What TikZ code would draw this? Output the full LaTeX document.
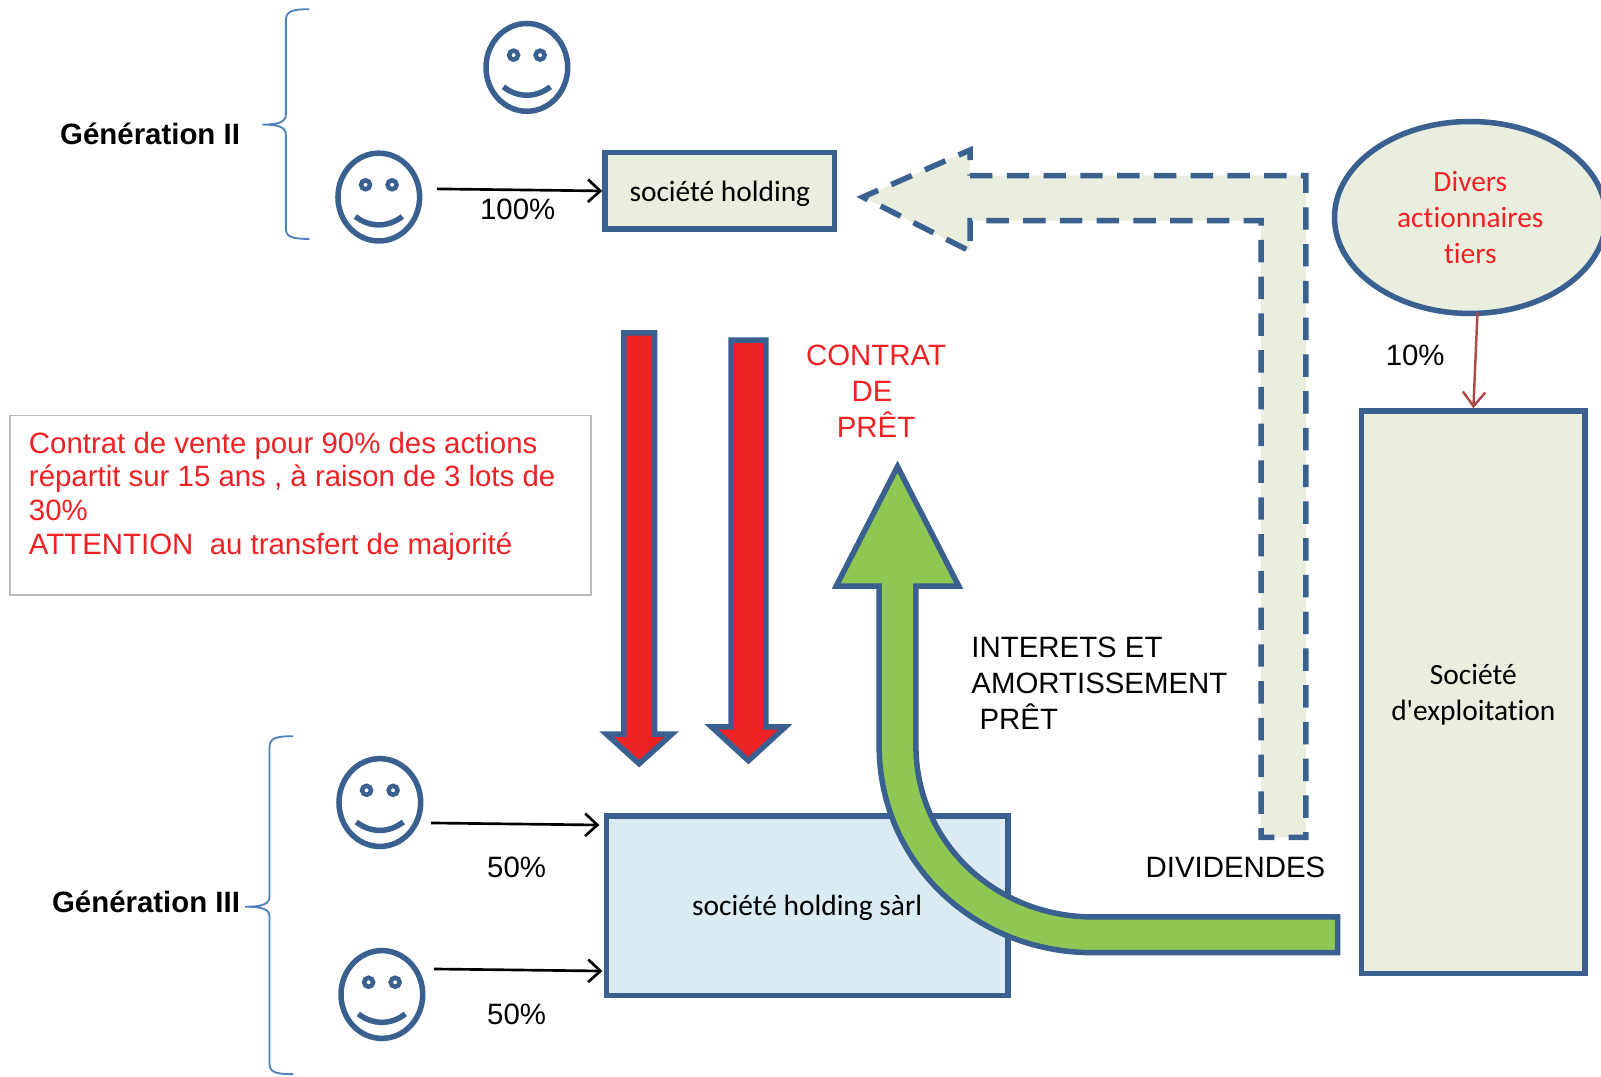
\documentclass[tikz,border=0pt]{standalone}
\usepackage{fontspec}
\setmainfont{Liberation Sans}
\newfontfamily\carlito[Ligatures=NoCommon]{Carlito}
\usetikzlibrary{shapes.geometric,arrows.meta}
\definecolor{bleutrait}{RGB}{57,96,143}
\definecolor{bleuaccolade}{RGB}{79,129,189}
\definecolor{beige}{RGB}{233,238,222}
\definecolor{bleuclair}{RGB}{218,236,242}
\definecolor{rouge}{RGB}{238,34,36}
\definecolor{vert}{RGB}{142,200,83}
\definecolor{brique}{RGB}{176,72,72}
\tikzstyle{boite}=[draw=bleutrait,line width=2.7pt,inner sep=0pt,anchor=center,font=\carlito\fontsize{14.4}{17.6}\selectfont,align=center]
\tikzstyle{tete}=[draw=bleutrait,line width=2.7pt,ellipse,inner sep=0pt,minimum width=40pt,minimum height=43pt]
\tikzstyle{trait}=[draw=bleutrait,line width=2.7pt]
\tikzstyle{accolade}=[draw=bleuaccolade,line width=0.9pt]
\tikzstyle{fleche}=[draw=black,line width=1.3pt,-{Straight Barb[length=6pt,width=11pt]}]
\tikzstyle{texte}=[font=\fontsize{14.4}{17.7}\selectfont,inner sep=0pt]
\tikzstyle{titre}=[font=\bfseries\fontsize{14.4}{17.7}\selectfont,inner sep=0pt]
\newcommand{\smiley}[2]{
\node[tete] (#1) at (#2) {};
\begin{scope}[shift={(#2)}]
\draw[draw=bleutrait,line width=2.2pt,fill=white] (-13,-12) circle (2.2pt);
\draw[draw=bleutrait,line width=2.2pt,fill=white] (13,-12) circle (2.2pt);
\draw[trait] (-23,19) .. controls (-9,30) and (9,30) .. (23,19);
\end{scope}
}
\begin{document}
\begin{tikzpicture}[x=0.5pt,y=-0.5pt]
\useasboundingbox (0,0) rectangle (1568,1054);
\draw[accolade] (303,9) .. controls (286,9) and (280,11) .. (280,20) -- (280,112) .. controls (280,119) and (274,122) .. (257,122) .. controls (274,122) and (280,125) .. (280,132) -- (280,224) .. controls (280,232) and (286,234) .. (303,234);
\draw[accolade] (287,721) .. controls (270,721) and (264,723) .. (264,732) -- (264,878) .. controls (264,885) and (258,888) .. (240,888) .. controls (258,888) and (264,891) .. (264,898) -- (264,1042) .. controls (264,1050) and (270,1052) .. (287,1052);
\node[titre] (geneII) at (147,131) {Génération II};
\node[titre] (geneIII) at (143,883) {Génération III};
\smiley{fils}{516,66}
\smiley{pere}{371,193}
\smiley{enfantA}{372,786}
\smiley{enfantB}{374,974}
\node[boite,fill=beige,minimum width=112.5pt,minimum height=37.5pt,text depth=-0.5pt] (holding) at (705,187) {société holding};
\node[boite,fill=bleuclair,minimum width=196.5pt,minimum height=88pt,text depth=-3pt] (holdingsarl) at (790.5,887) {société holding sàrl};
\node[boite,fill=beige,minimum width=109.5pt,minimum height=275.5pt,text depth=0pt] (exploitation) at (1443,678) {Société\\d'exploitation};
\node[boite,ellipse,fill=beige,text=rouge,minimum width=133pt,minimum height=94pt,text depth=-1pt] (divers) at (1440,213) {Divers\\actionnaires\\tiers};
\node[draw=black!27,line width=0.8pt,minimum width=284.5pt,minimum height=88pt,inner sep=0pt] (cadre) at (294.5,495) {};
\node[texte,font=\fontsize{14.4}{16.55}\selectfont,text=rouge,anchor=north west,align=left] (vente) at (28,422.5) {Contrat de vente pour 90\% des actions\\répartit sur 15 ans , à raison de 3 lots de\\30\%\\ATTENTION\ \ au transfert de majorité};
\node[texte,text=rouge,align=center] (contrat) at (858,383) {CONTRAT\\DE\hspace*{4pt}\mbox{}\\PRÊT};
\node[texte,align=left,anchor=west] (interets) at (951,669) {INTERETS ET\\AMORTISSEMENT\\\hspace*{4pt}PRÊT};
\node[texte] (dividendes) at (1210,849) {DIVIDENDES};
\node[texte] (centA) at (507,205) {100\%};
\node[texte] (dix) at (1386,348) {10\%};
\node[texte] (cinqA) at (506,849) {50\%};
\node[texte] (cinqB) at (506,993) {50\%};
\coordinate (departA) at (428,185);
\coordinate (departB) at (422,806);
\coordinate (finB) at (587,808);
\coordinate (departC) at (425,949);
\coordinate (finC) at (590,951);
\coordinate (departD) at (1447,306);
\draw[fleche] (departA) -- (holding.west);
\draw[fleche] (departB) -- (finB);
\draw[fleche] (departC) -- (finC);
\draw[draw=brique,line width=1.2pt,-{Straight Barb[length=7pt,width=11pt]}] (departD) -- (exploitation.north);
\draw[trait,fill=rouge] (611,326) -- (641,326) -- (641,719) -- (658,719) -- (626,748) -- (594,719) -- (611,719) -- cycle;
\draw[trait,fill=rouge] (716,333) -- (750,333) -- (750,712) -- (769,712) -- (733,745) -- (697,712) -- (716,712) -- cycle;
\draw[trait,fill=vert] (879,457) -- (939,574) -- (897,574) -- (897,730) .. controls (897,825) and (975,898) .. (1070,898) -- (1310,898) -- (1310,933) -- (1070,933) .. controls (955,933) and (861,845) .. (861,730) -- (861,574) -- (819,574) -- cycle;
\fill[beige] (845,193) -- (950,147) -- (950,172) -- (1279,172) -- (1279,820) -- (1235,820) -- (1235,216) -- (950,216) -- (950,246) -- cycle;
\draw[trait,dash pattern=on 11pt off 7pt] (950,172) -- (1279,172) -- (1279,820) -- (1235,820) -- (1235,216) -- (950,216) -- (950,246) -- (845,193) -- (950,147) -- cycle;
\end{tikzpicture}
\end{document}
